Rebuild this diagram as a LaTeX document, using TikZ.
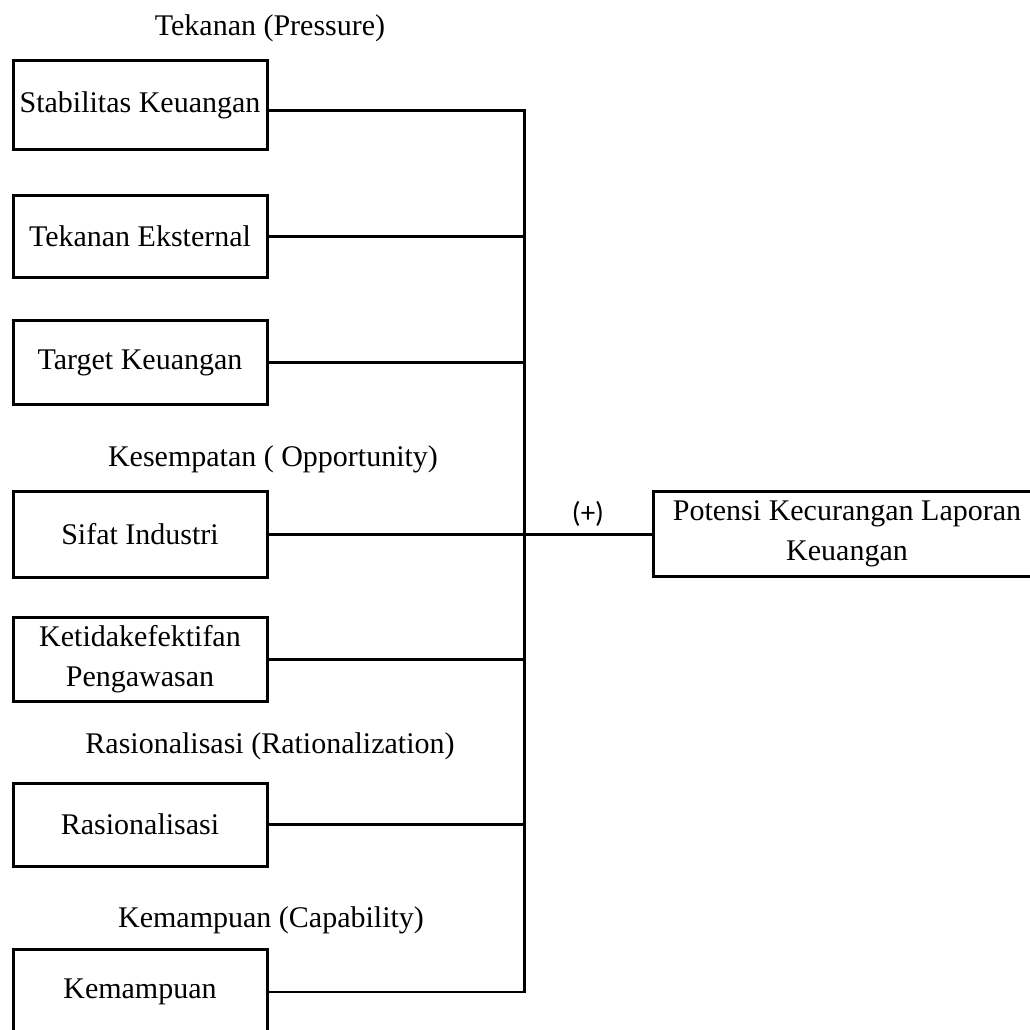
\documentclass[tikz,border=0pt]{standalone}
\usepackage{fontspec}
\setmainfont{Liberation Serif}
\newfontfamily\plusfont{Carlito}
\begin{document}
\begin{tikzpicture}[x=1pt,y=-1pt,
  every node/.style={font=\fontsize{30}{40}\selectfont, inner sep=0pt, outer sep=0pt},
  fbox/.style={draw, line width=3pt, minimum width=254pt, align=center},
  wire/.style={line width=3pt, line join=miter},
  thinwire/.style={line width=2.2pt},
  grplabel/.style={anchor=base}]
\useasboundingbox (0,0) rectangle (1030,1030);

% group labels
\node[grplabel] (lp) at (270,36) {Tekanan (Pressure)};
\node[grplabel] (lo) at (273,466) {Kesempatan ( Opportunity)};
\node[grplabel] (lr) at (270,753) {Rasionalisasi (Rationalization)};
\node[grplabel] (lc) at (271,927) {Kemampuan (Capability)};

% boxes
\node[fbox, minimum height=89pt] (b1) at (140,105) {Stabilitas Keuangan};
\node[fbox, minimum height=82pt] (b2) at (140,236.5) {Tekanan Eksternal};
\node[fbox, minimum height=84pt] (b3) at (140,362.5) {Target Keuangan};
\node[fbox, minimum height=86pt] (b4) at (140,534) {Sifat Industri};
\node[fbox, minimum height=84pt] (b5) at (140,659.5) {Ketidakefektifan\\Pengawasan};
\node[fbox, minimum height=83pt] (b6) at (140,824.5) {Rasionalisasi};
\node[fbox, minimum height=85pt] (b7) at (140,992) {Kemampuan};

\node[fbox, minimum width=388pt, minimum height=85pt] (res) at (847,534)
  {Potensi Kecurangan Laporan\\Keuangan};

% bus
\coordinate (bt) at (524,111);
\coordinate (bb) at (524,992);

\draw[wire] ([yshift=-6pt]b1.east) -- (bt) -- ([yshift=-1.1pt]bb);
\draw[thinwire] (bb) -- (b7.east);
\draw[wire] (b2.east) -- (b2.east -| bt);
\draw[wire] (b3.east) -- (b3.east -| bt);
\draw[wire] (b4.east) -- (res.west);
\draw[wire] (b5.east) -- (b5.east -| bt);
\draw[thinwire] (b6.east) -- (b6.east -| bt);

\node[anchor=base, font=\plusfont\fontsize{29}{32}\selectfont] (plus) at (588,522) {(+)};
\end{tikzpicture}
\end{document}
